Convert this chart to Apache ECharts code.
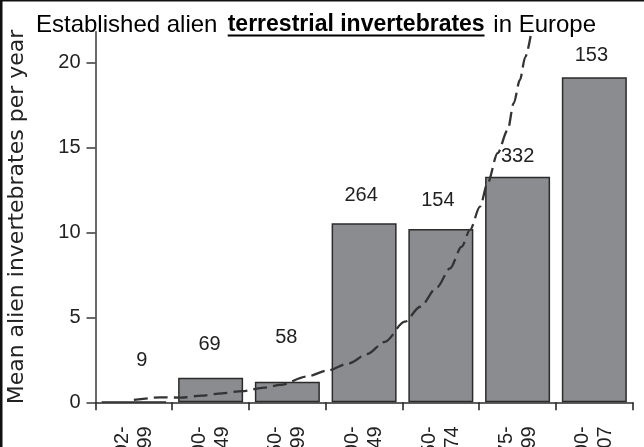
<!DOCTYPE html>
<html>
<head>
<meta charset="utf-8">
<script src="https://cdn.jsdelivr.net/npm/echarts@6/dist/echarts.min.js"></script>
<style>
  html, body { margin: 0; padding: 0; background: #fff; }
  #chart { width: 644px; height: 447px; }
</style>
</head>
<body>
<div id="chart"></div>
<script>
// Periods of first record and mean number of newly established species per year
const categories = ['1492-1799', '1800-1849', '1850-1899', '1900-1949', '1950-1974', '1975-1999', '2000-2007'];
const meanPerYear = [0.03, 1.45, 1.21, 10.53, 10.19, 13.27, 19.12];
// Number of species recorded in each period (printed above the bars)
const speciesCounts = [9, 69, 58, 264, 154, 332, 153];
// Trend curve: position along the period axis (0 = first period) and value
const trendX = [0.0, 0.35, 0.61, 0.88, 1.15, 1.41, 1.70, 1.91, 2.25, 2.52, 2.80, 3.04, 3.27, 3.53, 3.73, 3.95, 4.12, 4.27, 4.38, 4.51, 4.61, 4.74, 4.87, 4.95, 5.03, 5.10, 5.17];
const trendY = [0.14, 0.29, 0.28, 0.39, 0.53, 0.66, 0.86, 1.02, 1.51, 1.86, 2.29, 2.84, 3.56, 4.74, 5.62, 6.76, 7.88, 9.15, 10.14, 11.51, 12.9, 14.66, 16.0, 17.6, 18.96, 20.3, 21.55];
const yTicks = [0, 5, 10, 15, 20];

const TEXT = '#222';
const AXIS = '#444';
const SANS = '"Liberation Sans", Arial, sans-serif';

// per-bar nudges for the count labels [dx, dy]
const countLabelOffsets = [[8, -31], [-1, -23], [-1, -34], [-3, -18], [-3, -19], [0, -10], [-3, -12]];

const chart = echarts.init(document.getElementById('chart'), null, { renderer: 'canvas' });

const barData = meanPerYear.map((v, i) => ({
  value: v,
  label: {
    show: true,
    position: 'top',
    distance: 0,
    offset: countLabelOffsets[i],
    formatter: String(speciesCounts[i]),
    fontFamily: SANS,
    fontSize: 20,
    lineHeight: 20,
    color: TEXT
  }
}));

const trendData = trendX.map((x, i) => [x, trendY[i]]);

chart.setOption({
  animation: false,
  backgroundColor: '#fff',
  grid: { left: 95.5, right: 11.3, top: 31.7, bottom: 44.7, containLabel: false, outerBoundsMode: 'none' },
  xAxis: [
    {
      type: 'category',
      data: categories,
      boundaryGap: true,
      axisLine: { onZero: false, lineStyle: { color: '#2a2a2a', width: 1.6 } },
      axisTick: { show: true, length: 8, inside: false, lineStyle: { color: '#2a2a2a', width: 1.6 } },
      axisLabel: {
        rotate: 90,
        margin: 24,
        interval: 0,
        hideOverlap: false,
        fontFamily: SANS,
        fontSize: 20,
        lineHeight: 23,
        color: TEXT,
        formatter: (v) => v.replace('-', '-\n')
      },
      splitLine: { show: false }
    },
    {
      type: 'value',
      min: -0.5,
      max: 6.5,
      show: false
    }
  ],
  yAxis: {
    type: 'value',
    min: 0,
    max: 21.8,
    name: 'Mean alien invertebrates per year',
    nameLocation: 'middle',
    nameRotate: 90,
    nameGap: 67,
    nameTextStyle: { fontFamily: '"DejaVu Sans", sans-serif', fontSize: 22, color: TEXT },
    axisLine: { show: true, onZero: false, lineStyle: { color: AXIS, width: 1.6 } },
    axisTick: { show: true, length: 9, customValues: yTicks, lineStyle: { color: AXIS, width: 1.6 } },
    axisLabel: { customValues: yTicks, margin: 15, fontFamily: SANS, fontSize: 20, color: TEXT },
    splitLine: { show: false }
  },
  series: [
    {
      type: 'bar',
      xAxisIndex: 0,
      data: barData,
      barWidth: 65,
      itemStyle: { color: '#8b8c90', borderColor: '#2b2b2b', borderWidth: 1.5 },
      z: 2
    },
    {
      type: 'line',
      xAxisIndex: 1,
      data: trendData,
      smooth: 0.3,
      smoothMonotone: 'x',
      showSymbol: false,
      symbol: 'none',
      lineStyle: { color: '#333', width: 2.3, type: [14, 6] },
      z: 5
    }
  ],
  graphic: [
    // frame edges
    { type: 'rect', shape: { x: 0, y: 0, width: 644, height: 1.5 }, style: { fill: '#111' }, silent: true },
    { type: 'rect', shape: { x: 0, y: 0, width: 2.5, height: 447 }, style: { fill: '#111' }, silent: true },
    // title
    { type: 'text', x: 36, y: 25, style: { text: 'Established alien', font: '24px ' + SANS, fill: '#000', textVerticalAlign: 'middle' }, z: 10 },
    { type: 'text', x: 227.7, y: 25, style: { text: 'terrestrial invertebrates', font: 'bold 23px ' + SANS, fill: '#000', textVerticalAlign: 'middle' }, z: 10 },
    { type: 'rect', shape: { x: 227.7, y: 34.5, width: 256.8, height: 2 }, style: { fill: '#000' }, z: 10 },
    { type: 'text', x: 493.3, y: 25, style: { text: 'in Europe', font: '24px ' + SANS, fill: '#000', textVerticalAlign: 'middle' }, z: 10 }
  ]
});
</script>
</body>
</html>
